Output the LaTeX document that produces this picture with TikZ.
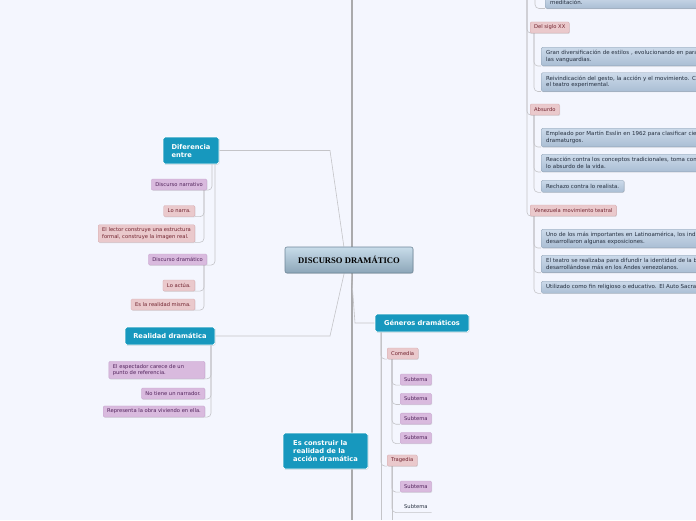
\documentclass[tikz,border=0pt]{standalone}
\usepackage{fontspec}
\setmainfont{DejaVu Sans}
\newfontfamily\titlefont{Liberation Serif}
\usetikzlibrary{positioning, shadows, backgrounds}
\definecolor{bgpage}{RGB}{244,246,254}
\definecolor{tealfill}{RGB}{23,152,190}
\definecolor{pinkfill}{RGB}{234,201,204}
\definecolor{pinkline}{RGB}{214,170,174}
\definecolor{pinktext}{RGB}{112,34,46}
\definecolor{purpfill}{RGB}{217,186,222}
\definecolor{purpline}{RGB}{198,164,206}
\definecolor{purptext}{RGB}{80,34,90}
\definecolor{greytop}{RGB}{204,218,234}
\definecolor{greybot}{RGB}{170,190,212}
\definecolor{greytext}{RGB}{36,46,62}
\definecolor{maintop}{RGB}{200,220,234}
\definecolor{mainbot}{RGB}{140,166,184}
\definecolor{mainline}{RGB}{110,134,152}
\definecolor{connline}{RGB}{196,196,200}
\definecolor{trunkline}{RGB}{170,170,172}

\begin{document}
\begin{tikzpicture}[x=1pt, y=-1pt,
  every node/.style={font=\fontsize{5.2}{6.4}\selectfont, inner sep=0pt},
  boxshadow/.style={drop shadow={shadow xshift=.6pt, shadow yshift=-.8pt, opacity=.22}},
  mainbox/.style={boxshadow, draw=mainline, line width=.6pt, top color=maintop, bottom color=mainbot, rounded corners=2pt, minimum width=128pt, minimum height=26pt, font=\titlefont\bfseries\fontsize{8.6}{10}\selectfont},
  topicbox/.style={boxshadow, draw=white, line width=.7pt, fill=tealfill, rounded corners=1.8pt, text=white, font=\bfseries\fontsize{6.7}{8}\selectfont, align=left, minimum height=18pt},
  pinkbox/.style={boxshadow, draw=pinkline, line width=.3pt, fill=pinkfill, rounded corners=1.2pt, text=pinktext, align=left, inner xsep=4pt, inner ysep=3pt, minimum height=11pt},
  purpbox/.style={boxshadow, draw=purpline, line width=.3pt, fill=purpfill, rounded corners=1.2pt, text=purptext, align=left, inner xsep=4pt, inner ysep=3pt, minimum height=11pt},
  plainbox/.style={text=greytext, inner xsep=4pt, minimum height=11pt},
  greybox/.style={boxshadow, draw=greybot!85!black, line width=.3pt, top color=greytop, bottom color=greybot, rounded corners=1.5pt, text=greytext, font=\fontsize{5.5}{6.6}\selectfont, align=left, inner xsep=5pt, inner ysep=3.3pt, minimum height=12pt, anchor=north west},
  widebox/.style={greybox, text width=190pt},
  link/.style={draw=connline, line width=.6pt},
  hook/.style={link, rounded corners=4pt},
  trunk/.style={draw=trunkline, line width=2.4pt}]
  \useasboundingbox (0,0) rectangle (696,520);

  \node[mainbox] (main) at (349,260) {DISCURSO DRAMÁTICO};

  \node[topicbox, minimum width=56pt, minimum height=27pt] (dif) at (191,150.5) {Diferencia\\entre};
  \node[topicbox, minimum width=90pt] (real) at (170,336) {Realidad dramática};
  \node[topicbox, minimum width=94pt] (gen) at (422,323) {Géneros dramáticos};
  \node[topicbox, minimum width=85pt, minimum height=36pt] (constr) at (325.5,451) {Es construir la\\realidad de la\\acción dramática};

  \node[purpbox, anchor=east] (narr) at (207,184.5) {Discurso narrativo};
  \node[pinkbox, anchor=east] (narra) at (195,211) {Lo narra.};
  \node[pinkbox, anchor=east] (lector) at (195,233.5) {El lector construye una estructura\\formal, construye la imagen real.};
  \node[purpbox, anchor=east] (dram) at (207,259.5) {Discurso dramático};
  \node[pinkbox, anchor=east] (actua) at (195,285.5) {Lo actúa.};
  \node[pinkbox, anchor=east] (misma) at (195,304.5) {Es la realidad misma.};

  \node[purpbox, anchor=east, text width=88pt] (espect) at (205,370) {El espectador carece de un\\punto de referencia.};
  \node[purpbox, anchor=east] (nonarr) at (205,393.5) {No tiene un narrador.};
  \node[purpbox, anchor=east] (repres) at (205,411.5) {Representa la obra viviendo en ella.};

  \node[pinkbox, anchor=west] (comedia) at (387,353.5) {Comedia};
  \node[purpbox, anchor=west] (s1) at (400,379.5) {Subtema};
  \node[purpbox, below=8pt of s1] (s2) {Subtema};
  \node[purpbox, below=8.5pt of s2] (s3) {Subtema};
  \node[purpbox, below=8pt of s3] (s4) {Subtema};
  \node[pinkbox, anchor=west] (tragedia) at (387,460.5) {Tragedia};
  \node[purpbox, anchor=west] (s5) at (400,486.5) {Subtema};
  \node[plainbox, below=9pt of s5] (s6) {Subtema};

  \node[pinkbox, anchor=west] (xx) at (530,27.5) {Del siglo XX};
  \node[pinkbox, anchor=west] (absurdo) at (530,109.5) {Absurdo};
  \node[pinkbox, anchor=west] (venez) at (530,210.5) {Venezuela movimiento teatral};

  \node[widebox, anchor=south west, inner ysep=2pt] (g0) at (545,8.5) {meditación.};
  \node[widebox] (g1) at (541,47) {Gran diversificación de estilos , evolucionando en para\\las vanguardias.};
  \node[widebox] (g2) at (541,72.5) {Reivindicación del gesto, la acción y el movimiento. C\\el teatro experimental.};
  \node[widebox] (g3) at (541,128) {Empleado por Martín Esslin en 1962 para clasificar cie\\dramaturgos.};
  \node[widebox] (g4) at (541,154) {Reacción contra los conceptos tradicionales, toma com\\lo absurdo de la vida.};
  \node[greybox] (g5) at (541,180) {Rechazo contra lo realista.};
  \node[widebox] (g6) at (541,229) {Uno de los más importantes en Latinoamérica, los ind\\desarrollaron algunas exposiciones.};
  \node[widebox] (g7) at (541,255) {El teatro se realizaba para difundir la identidad de la b\\desarrollándose más en los Andes venezolanos.};
  \node[widebox] (g8) at (541,281) {Utilizado como fin religioso o educativo. El Auto Sacra};

  \begin{scope}[on background layer]
    \fill[bgpage] (0,0) rectangle (696,520);
    \coordinate (ctop) at (352,0);
    \coordinate (cbot) at (352,520);
    \draw[trunk] (ctop) -- (cbot);

    \coordinate (difbend) at (330,150.5);
    \coordinate (realbend) at (330,336);
    \coordinate (genbend) at (355,323);
    \draw[link] (dif.east) -- (difbend) -- (main.111);
    \draw[link] (real.east) -- (realbend) -- (main.-110);
    \draw[link] (main.-80) -- (genbend) -- (gen.west);

    \coordinate (difleg) at (212,164);
    \coordinate (difleg2) at (215,164);
    \draw[hook] (difleg) |- (narr.south east);
    \draw[hook] (difleg2) |- (dram.south east);
    \coordinate (narrleg) at (204,190);
    \draw[hook] (narrleg) |- (narra.south east);
    \draw[hook] (narrleg) |- (lector.south east);
    \coordinate (dramleg) at (204,265);
    \draw[hook] (dramleg) |- (actua.south east);
    \draw[hook] (dramleg) |- (misma.south east);
    \coordinate (realleg) at (211,345);
    \draw[hook] (realleg) |- (espect.south east);
    \draw[hook] (realleg) |- (nonarr.south east);
    \draw[hook] (realleg) |- (repres.south east);

    \coordinate (genleg) at (381,332);
    \coordinate (genend) at (381,520);
    \draw[hook] (genleg) |- (comedia.south west);
    \draw[hook] (genleg) |- (tragedia.south west);
    \draw[link] (genleg) -- (genend);
    \coordinate (comleg) at (392,359);
    \foreach \s in {s1,s2,s3,s4}
      \draw[hook] (comleg) |- (\s.south west);
    \coordinate (traleg) at (392,466);
    \coordinate (traend) at (392,520);
    \draw[hook] (traleg) |- (s5.south west);
    \draw[hook] (traleg) |- (s6.south east);
    \draw[link] (traleg) -- (traend);

    \coordinate (rtop) at (527,0);
    \draw[hook] (rtop) |- (xx.south west);
    \draw[hook] (rtop) |- (absurdo.south west);
    \draw[hook] (rtop) |- (venez.south west);
    \coordinate (ptop) at (535,0);
    \draw[hook] (ptop) |- (g0.south west);
    \coordinate (xxleg) at (534,33);
    \draw[hook] (xxleg) |- (g1.south west);
    \draw[hook] (xxleg) |- (g2.south west);
    \coordinate (absleg) at (534,115);
    \foreach \g in {g3,g4,g5}
      \draw[hook] (absleg) |- (\g.south west);
    \coordinate (venleg) at (534,216);
    \foreach \g in {g6,g7,g8}
      \draw[hook] (venleg) |- (\g.south west);
  \end{scope}
\end{tikzpicture}
\end{document}
